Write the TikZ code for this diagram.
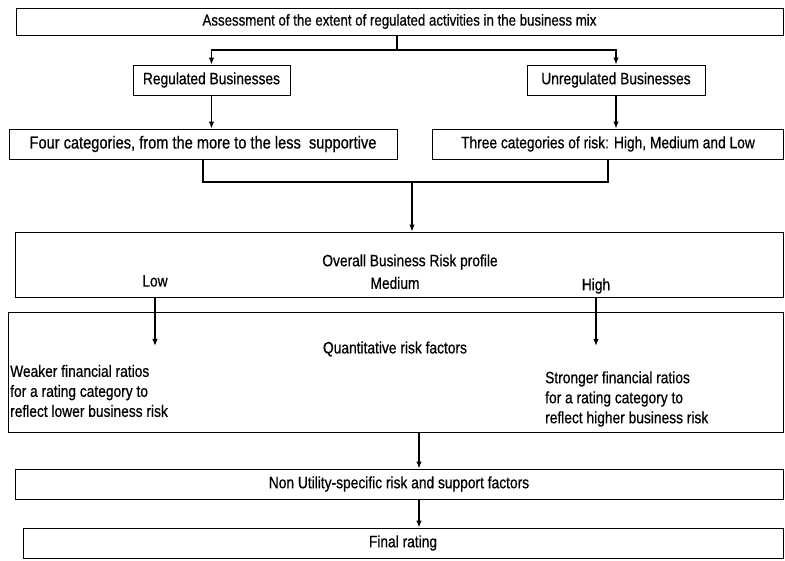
\documentclass[tikz,border=0pt]{standalone}
\usepackage{fontspec}
\setmainfont{Liberation Sans}[FakeStretch=0.84,FakeBold=0.6]
\usetikzlibrary{arrows.meta}
\begin{document}
\begin{tikzpicture}[x=1pt,y=-1pt,>={Latex[length=7pt,width=5.5pt]},
	box/.style={draw,line width=0.9pt,inner sep=0pt,font=\fontsize{16.4}{20}\selectfont},
	txt/.style={inner sep=0pt,font=\fontsize{16.4}{20}\selectfont},
	conn/.style={line width=1.3pt}]
	\useasboundingbox (0,0) rectangle (785,561);
	% boxes
	\node[box,minimum width=767,minimum height=27,font=\fontsize{15.8}{20}\selectfont] (assess) at (399.5,21.5) {Assessment of the extent of regulated activities in the business mix};
	\node[box,minimum width=157,minimum height=30] (reg) at (211.5,80) {Regulated Businesses};
	\node[box,minimum width=178,minimum height=30] (unreg) at (616,80) {Unregulated Businesses};
	\node[box,minimum width=388,minimum height=30,font=\fontsize{17.4}{20}\selectfont] (four) at (203,144) {Four categories, from the more to the less\ \ supportive};
	\node[box,minimum width=351,minimum height=30] (three) at (608,144) {Three categories of risk: High, Medium and Low};
	\node[box,minimum width=768,minimum height=65] (overall) at (399,264.5) {};
	\node[box,minimum width=775,minimum height=120] (quant) at (395.5,372) {};
	\node[box,minimum width=768,minimum height=30] (nonutil) at (399,484) {Non Utility-specific risk and support factors};
	\node[box,minimum width=760,minimum height=30] (final) at (403,543) {Final rating};
	% texts inside the large boxes
	\node[txt] (profile) at (410,262) {Overall Business Risk profile};
	\node[txt] (low) at (155,281) {Low};
	\node[txt] (medium) at (395,283) {Medium};
	\node[txt] (high) at (596,286) {High};
	\node[txt] (qtitle) at (395,349) {Quantitative risk factors};
	\node[txt,anchor=west,align=left] (weaker) at (10,391) {Weaker financial ratios\\for a rating category to\\reflect lower business risk};
	\node[txt,anchor=west,align=left] (stronger) at (545,399) {Stronger financial ratios\\for a rating category to\\reflect higher business risk};
	% connectors
	\coordinate (split) at (397,50);
	\coordinate (merge) at (412,182);
	\coordinate (lowtip) at (155,346);
	\coordinate (hightip) at (596,346);
	\coordinate (mid) at (419,0);
	\draw[conn] (assess.south -| split) -- (split);
	\draw[conn,->] (split) -| (reg.north);
	\draw[conn,->] (split) -| (unreg.north);
	\draw[conn,->] (reg.south) -- (four.north -| reg);
	\draw[conn,->] (unreg.south) -- (three.north -| unreg);
	\draw[conn] (four.south) |- (merge) -| (three.south);
	\draw[conn,->] (merge) -- (overall.north -| merge);
	\draw[conn,->] (overall.south -| lowtip) -- (lowtip);
	\draw[conn,->] (overall.south -| hightip) -- (hightip);
	\draw[conn,->] (quant.south -| mid) -- (nonutil.north -| mid);
	\draw[conn,->] (nonutil.south -| mid) -- (final.north -| mid);
\end{tikzpicture}
\end{document}
